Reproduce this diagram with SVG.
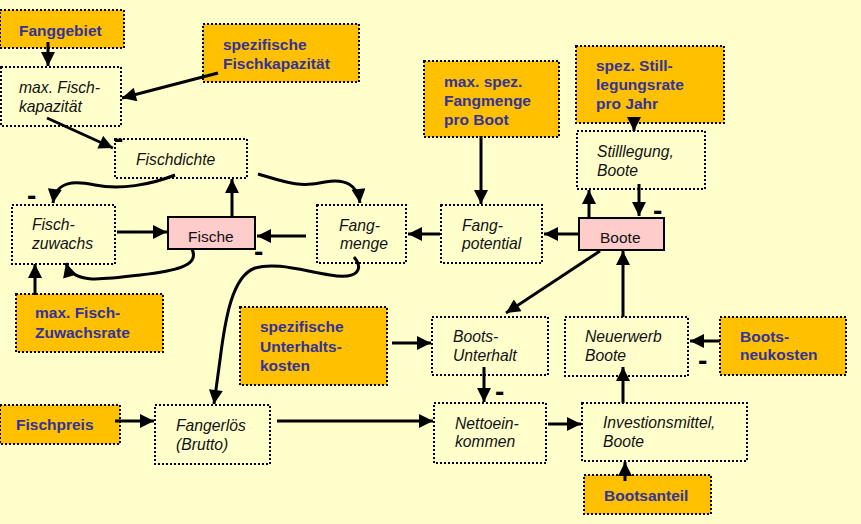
<svg xmlns="http://www.w3.org/2000/svg" width="861" height="524" viewBox="0 0 861 524">
<style>
.bg{fill:#FFFFCC}
.ext{fill:#FFC000;stroke:#000;stroke-width:2;stroke-dasharray:2 2}
.var{fill:none;stroke:#000;stroke-width:2;stroke-dasharray:2 2}
.stock{fill:#FFCCCC;stroke:#000;stroke-width:2}
.tb{font-family:"Liberation Sans",Arial,sans-serif;font-weight:bold;font-size:15.5px;fill:#333399}
.ti{font-family:"Liberation Sans",Arial,sans-serif;font-style:italic;font-size:15.7px;fill:#111}
.tr{font-family:"Liberation Sans",Arial,sans-serif;font-size:15.5px;fill:#111}
.minus{font-family:"Liberation Sans",Arial,sans-serif;font-weight:bold;font-size:28px;fill:#000}
.c{fill:none;stroke:#000;stroke-width:3;marker-end:url(#ah)}
</style>
<defs>
<marker id="ah" viewBox="0 0 10 10" refX="10" refY="5" markerWidth="15" markerHeight="14" markerUnits="userSpaceOnUse" orient="auto">
<path d="M0,0 L10,5 L0,10 z" fill="#000"/>
</marker>
</defs>
<rect class="bg" x="0" y="0" width="861" height="524"/>

<g id="fanggebiet"><rect class="ext" x="0" y="10" width="124" height="38"/><text class="tb" x="19" y="36">Fanggebiet</text></g>
<g id="spez-fischkapazitaet"><rect class="ext" x="203" y="24" width="156" height="58"/><text class="tb" x="223" y="50">spezifische</text><text class="tb" x="223" y="69">Fischkapazität</text></g>
<g id="max-fischkapazitaet"><rect class="var" x="1" y="67" width="120" height="59"/><text class="ti" x="19" y="93">max. Fisch-</text><text class="ti" x="19" y="112">kapazität</text></g>
<g id="fischdichte"><rect class="var" x="115" y="139" width="132" height="39"/><text class="ti" x="136" y="165">Fischdichte</text></g>
<g id="fischzuwachs"><rect class="var" x="12" y="205" width="103" height="59"/><text class="ti" x="32" y="230">Fisch-</text><text class="ti" x="32" y="249">zuwachs</text></g>
<g id="fische"><rect class="stock" x="168" y="217" width="87" height="32"/><text class="tr" x="188" y="242">Fische</text></g>
<g id="max-fischzuwachsrate"><rect class="ext" x="16" y="294" width="147" height="58"/><text class="tb" x="35" y="318">max. Fisch-</text><text class="tb" x="35" y="338">Zuwachsrate</text></g>
<g id="fangmenge"><rect class="var" x="317" y="205" width="89" height="58"/><text class="ti" x="339" y="231">Fang-</text><text class="ti" x="340" y="249">menge</text></g>
<g id="fangpotential"><rect class="var" x="441" y="205" width="101" height="58"/><text class="ti" x="462" y="231">Fang-</text><text class="ti" x="462" y="249">potential</text></g>
<g id="max-spez-fangmenge"><rect class="ext" x="424" y="61" width="135" height="76"/><text class="tb" x="444" y="87">max. spez.</text><text class="tb" x="444" y="106">Fangmenge</text><text class="tb" x="444" y="125">pro Boot</text></g>
<g id="spez-stilllegungsrate"><rect class="ext" x="576" y="46" width="148" height="77"/><text class="tb" x="596" y="71">spez. Still-</text><text class="tb" x="596" y="90">legungsrate</text><text class="tb" x="596" y="109">pro Jahr</text></g>
<g id="stilllegung"><rect class="var" x="577" y="131" width="128" height="58"/><text class="ti" x="597" y="157">Stilllegung,</text><text class="ti" x="597" y="176">Boote</text></g>
<g id="boote"><rect class="stock" x="579" y="218" width="85" height="32"/><text class="tr" x="600" y="243">Boote</text></g>
<g id="spez-unterhaltskosten"><rect class="ext" x="240" y="307" width="147" height="78"/><text class="tb" x="260" y="332">spezifische</text><text class="tb" x="260" y="352">Unterhalts-</text><text class="tb" x="260" y="371">kosten</text></g>
<g id="bootsunterhalt"><rect class="var" x="432" y="317" width="116" height="58"/><text class="ti" x="453" y="342">Boots-</text><text class="ti" x="453" y="361">Unterhalt</text></g>
<g id="neuerwerb"><rect class="var" x="565" y="317" width="123" height="59"/><text class="ti" x="585" y="342">Neuerwerb</text><text class="ti" x="585" y="361">Boote</text></g>
<g id="bootsneukosten"><rect class="ext" x="720" y="317" width="126" height="58"/><text class="tb" x="740" y="342">Boots-</text><text class="tb" x="740" y="360">neukosten</text></g>
<g id="fischpreis"><rect class="ext" x="0" y="405" width="120" height="39"/><text class="tb" x="16" y="430">Fischpreis</text></g>
<g id="fangerloes"><rect class="var" x="155" y="405" width="115" height="59"/><text class="ti" x="176" y="431">Fangerlös</text><text class="ti" x="176" y="450">(Brutto)</text></g>
<g id="nettoeinkommen"><rect class="var" x="434" y="403" width="112" height="60"/><text class="ti" x="455" y="429">Nettoein-</text><text class="ti" x="455" y="447">kommen</text></g>
<g id="investitionsmittel"><rect class="var" x="582" y="403" width="165" height="58"/><text class="ti" x="603" y="428">Investionsmittel,</text><text class="ti" x="603" y="447">Boote</text></g>
<g id="bootsanteil"><rect class="ext" x="584" y="475" width="127" height="39"/><text class="tb" x="604" y="501">Bootsanteil</text></g>

<g id="connectors">
<path class="c" d="M48,42 L48,66"/>
<path class="c" d="M218,73 L122,98"/>
<path class="c" d="M47,118 L113,148"/>
<path class="c" d="M175,175 C150,185 120,190 95,185 C75,181 56,180 53,203"/>
<path class="c" d="M192,249 C200,266 175,271 140,275 C100,280 72,284 66,263"/>
<path class="c" d="M117,232 L167,232"/>
<path class="c" d="M232,216 L232,179"/>
<path class="c" d="M35,295 L35,264"/>
<path class="c" d="M258,174 C285,182 300,188 325,182 C345,178 358,185 360,203"/>
<path class="c" d="M306,236 L257,236"/>
<path class="c" d="M440,234 L408,234"/>
<path class="c" d="M578,234 L544,234"/>
<path class="c" d="M481,136 L481,204"/>
<path class="c" d="M634,118 L634,131"/>
<path class="c" d="M589,218 L589,190"/>
<path class="c" d="M639,184 L639,216"/>
<path class="c" d="M600,251 L506,313"/>
<path class="c" d="M392,343 L431,343"/>
<path class="c" d="M484,367 L484,402"/>
<path class="c" d="M354,257 C363,268 360,280 330,275 C300,270 275,262 255,268 C232,276 225,320 220,360 L214,404"/>
<path class="c" d="M115,421 L154,421"/>
<path class="c" d="M277,421 L433,421"/>
<path class="c" d="M548,424 L581,424"/>
<path class="c" d="M625,481 L625,462"/>
<path class="c" d="M623,403 L623,367"/>
<path class="c" d="M623,317 L623,251"/>
<path class="c" d="M720,341 L690,341"/>
</g>

<g id="polarity">
<text class="minus" x="114" y="147.5">-</text>
<text class="minus" x="27" y="205">-</text>
<text class="minus" x="254" y="261">-</text>
<text class="minus" x="653" y="220">-</text>
<text class="minus" x="495" y="401">-</text>
<text class="minus" x="698" y="370">-</text>
</g>
</svg>
